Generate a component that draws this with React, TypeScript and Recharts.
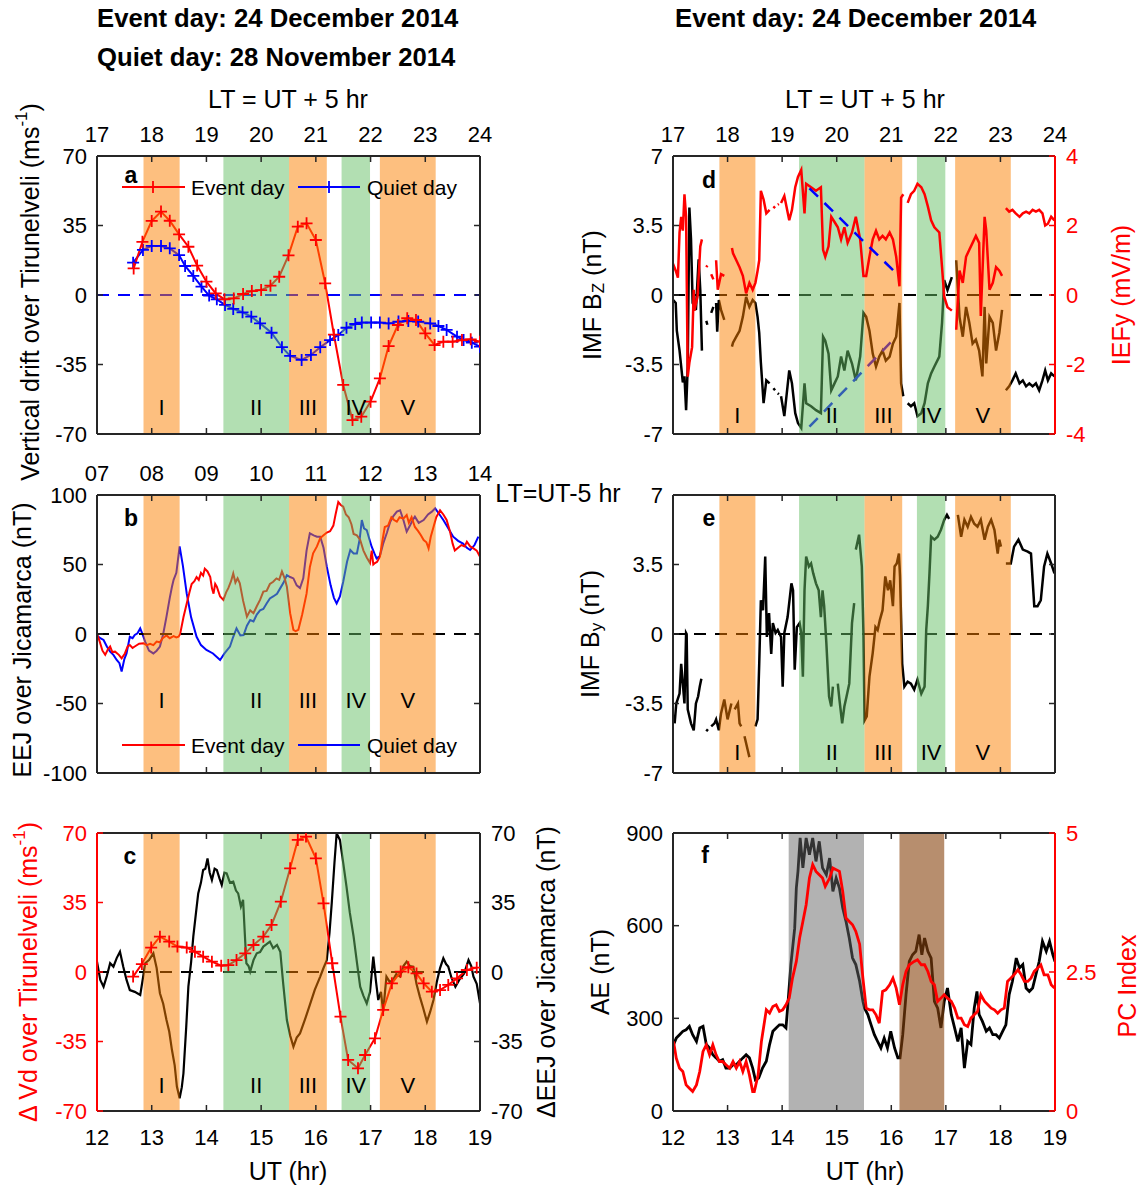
import React from "react";
import { ComposedChart, Line, XAxis, YAxis, ReferenceArea, ReferenceLine } from "recharts";

type Pt = [number, number | null];

const FONT = '"Liberation Sans", Arial, Helvetica, sans-serif';
const INK = "#262626";
const RED = "#ff0000";
const BLUE = "#0000ff";
const ORANGE = "#fb8000";
const GREEN = "#65bf65";

// shared UT axis
const utTicks = [12, 13, 14, 15, 16, 17, 18, 19];

// shaded intervals I..V (UT hr)
const bandFrom = [12.85, 14.31, 15.51, 16.47, 17.17];
const bandTo = [13.51, 15.51, 16.2, 16.99, 18.19];
const bandName = ["I", "II", "III", "IV", "V"];
const bandTone = ["o", "g", "o", "g", "o"];

// panel f shading
const aeBandFrom = [14.12, 16.15];
const aeBandTo = [15.5, 16.97];
const aeBandFill = ["#666666", "#87430d"];
const aeBandAlpha = [0.5, 0.6];

// a: vertical drift over Tirunelveli (m/s)
const driftEvent: Pt[] = [
  [12.67, 13.4], [12.83, 26.8], [13.0, 37.3], [13.17, 42], [13.33, 37.4], [13.5, 30.5], [13.67, 24.3],
  [13.83, 14.8], [14.0, 6.7], [14.17, 0.8], [14.33, -2.2], [14.5, -1.7], [14.67, 0.5], [14.83, 2],
  [15.0, 2.5], [15.17, 4.7], [15.33, 9.2], [15.5, 20], [15.67, 34.4], [15.83, 36.1], [16.0, 27.7],
  [16.17, 5.9], [16.33, -20], [16.5, -45.3], [16.67, -63], [16.83, -61.3], [17.0, -53.7], [17.17, -42],
  [17.33, -25.7], [17.5, -15.1], [17.67, -11.7], [17.83, -12.6], [18.0, -19.3], [18.17, -25.2],
  [18.33, -23.5], [18.5, -23.5], [18.67, -22.7], [18.83, -22.3], [19.0, -23.5],
];
const driftQuiet: Pt[] = [
  [12.66, 16.3], [12.84, 22.7], [13.0, 24.7], [13.17, 24.7], [13.33, 23.5], [13.5, 20.1], [13.61, 14.6],
  [13.76, 9.6], [13.91, 4.2], [14.05, -0.3], [14.19, -2.2], [14.34, -5], [14.49, -7], [14.66, -8.7],
  [14.82, -10.9], [14.98, -14.3], [15.19, -19], [15.38, -26.3], [15.53, -30.7], [15.74, -32.7],
  [15.91, -30.2], [16.08, -26.3], [16.26, -22.7], [16.41, -20.1], [16.56, -16.5], [16.72, -14.6],
  [16.84, -13.9], [17.01, -13.9], [17.17, -13.9], [17.33, -14.3], [17.51, -13.4], [17.69, -13.1],
  [17.87, -13.4], [18.09, -14.3], [18.24, -15.6], [18.39, -17.6], [18.58, -21], [18.7, -22.7],
  [18.85, -24], [19.0, -26],
];

// b: EEJ over Jicamarca (nT)
const eejEvent: Pt[] = [
  [12.0, 0], [12.05, -5.5], [12.1, -12], [12.15, -15], [12.2, -11], [12.24, -9], [12.28, -13], [12.33, -12.7],
  [12.4, -15], [12.45, -17.5], [12.51, -14], [12.56, -9], [12.6, -8], [12.65, -10], [12.69, -9],
  [12.77, -7], [12.85, -6.7], [12.91, -8], [12.97, -7], [13.03, -8], [13.09, -5.5], [13.15, -6],
  [13.2, -3], [13.27, -1], [13.33, -3], [13.4, -1.5], [13.45, -2.5], [13.49, -2], [13.52, 0], [13.58, 12],
  [13.64, 22], [13.69, 30], [13.73, 36], [13.78, 38], [13.82, 41], [13.86, 39], [13.9, 44], [13.94, 42],
  [13.97, 47], [14.02, 45], [14.07, 41], [14.1, 33], [14.13, 29], [14.16, 36], [14.19, 34], [14.25, 27],
  [14.31, 24.5], [14.36, 30], [14.4, 33], [14.45, 38], [14.49, 43.6], [14.53, 37], [14.57, 40],
  [14.61, 36.5], [14.67, 24], [14.74, 12.5], [14.8, 17], [14.86, 15], [14.92, 20], [14.98, 24.5],
  [15.04, 30.5], [15.1, 31], [15.16, 36], [15.22, 37.6], [15.28, 40], [15.33, 39], [15.38, 45],
  [15.43, 40], [15.47, 34], [15.53, 15], [15.59, 3], [15.63, 2], [15.68, 3], [15.75, 14], [15.83, 29],
  [15.89, 48], [15.95, 58], [16.02, 63], [16.08, 69], [16.14, 71], [16.2, 73], [16.26, 74], [16.32, 78],
  [16.36, 86], [16.41, 95], [16.45, 93], [16.5, 91.6], [16.55, 86], [16.6, 84], [16.65, 79], [16.69, 72],
  [16.75, 71], [16.81, 67.6], [16.87, 60], [16.93, 55], [16.99, 51], [17.02, 60], [17.05, 50],
  [17.08, 51], [17.12, 52], [17.17, 55.6], [17.22, 68], [17.26, 77], [17.32, 78], [17.38, 84],
  [17.43, 82], [17.48, 80.8], [17.53, 84], [17.6, 83], [17.66, 85.6], [17.7, 80], [17.75, 84],
  [17.81, 77], [17.87, 74], [17.92, 71], [17.97, 67.6], [18.02, 66], [18.06, 61.6], [18.1, 70],
  [18.15, 77], [18.2, 84], [18.27, 89], [18.33, 86], [18.39, 82], [18.45, 74], [18.5, 65], [18.54, 60],
  [18.6, 62], [18.66, 64], [18.72, 63], [18.76, 66.4], [18.82, 63], [18.88, 61.6], [18.94, 60],
  [19.0, 55.6],
];
const eejQuiet: Pt[] = [
  [12.0, -1], [12.06, -3], [12.12, -4.3], [12.18, -9], [12.24, -12.7], [12.3, -15], [12.36, -18.7],
  [12.41, -21], [12.45, -27], [12.5, -18], [12.54, -14], [12.6, -2], [12.65, -3], [12.69, -0.7],
  [12.74, 0.5], [12.79, 4], [12.84, -1], [12.88, -5.5], [12.95, -12], [13.03, -14], [13.09, -12],
  [13.15, -9], [13.21, 0], [13.27, 12.5], [13.33, 26], [13.37, 34], [13.4, 39], [13.45, 44],
  [13.51, 63], [13.57, 49], [13.64, 29], [13.72, 12], [13.82, -2], [13.9, -8], [14.0, -11.5],
  [14.12, -14], [14.25, -18.7], [14.33, -14], [14.43, -9], [14.49, -2], [14.55, 4], [14.62, -1],
  [14.68, -0.7], [14.74, 6], [14.8, 10], [14.86, 9], [14.92, 14], [14.98, 17], [15.04, 18], [15.1, 22],
  [15.16, 25.6], [15.22, 27], [15.29, 29], [15.35, 33], [15.41, 37], [15.47, 42.4], [15.53, 41],
  [15.59, 40], [15.65, 35], [15.71, 33], [15.77, 40], [15.83, 60], [15.89, 72.4], [15.96, 71],
  [16.02, 70], [16.08, 70], [16.14, 62], [16.2, 48.4], [16.27, 35], [16.33, 26], [16.38, 22],
  [16.44, 27], [16.5, 37.6], [16.57, 52], [16.63, 60.4], [16.69, 58], [16.75, 58], [16.8, 68],
  [16.84, 82], [16.88, 76], [16.93, 74.8], [16.98, 68], [17.02, 62.8], [17.07, 58], [17.11, 54.4],
  [17.17, 56], [17.23, 65], [17.3, 73], [17.36, 80.8], [17.42, 85], [17.48, 88], [17.54, 89],
  [17.6, 82], [17.66, 73.6], [17.72, 78], [17.77, 82], [17.81, 84.4], [17.88, 80], [17.97, 82],
  [18.05, 86], [18.12, 88], [18.18, 90.4], [18.26, 86], [18.33, 82], [18.42, 76], [18.51, 70],
  [18.6, 67], [18.69, 65], [18.76, 62], [18.82, 60.4], [18.9, 64], [18.97, 70],
];

// c: differences event - quiet
const dVd: Pt[] = [
  [12.66, -2.3], [12.82, 4], [12.99, 12.3], [13.15, 17.8], [13.32, 15.3], [13.47, 12.8], [13.64, 12.3],
  [13.79, 10.2], [13.94, 7.7], [14.1, 5.2], [14.27, 3.2], [14.4, 3.5], [14.55, 6], [14.71, 9.4],
  [14.86, 13.6], [15.04, 17.8], [15.19, 23.7], [15.36, 35.4], [15.53, 52.2], [15.67, 66.5],
  [15.82, 68.2], [16.0, 57.2], [16.14, 34.6], [16.3, 4.4], [16.45, -22.5], [16.59, -44.3],
  [16.77, -48.5], [16.9, -41.8], [17.08, -33.4], [17.23, -19.1], [17.39, -5.7], [17.55, 0.2],
  [17.69, 2.4], [17.84, -0.7], [17.97, -5.7], [18.12, -9.9], [18.27, -9.1], [18.42, -6.5],
  [18.58, -3.2], [18.76, 1], [18.94, 2.2],
];
const dEEJ: Pt[] = [
  [12.0, 5.2], [12.06, -4], [12.12, -7.4], [12.18, -2], [12.24, 4.4], [12.3, 2.7], [12.36, 7], [12.42, 10.2],
  [12.48, 2.7], [12.54, -4], [12.6, -9.1], [12.69, -10], [12.79, -11.6], [12.84, -3], [12.88, 4.4],
  [12.95, 6], [13.03, 9.4], [13.09, 2], [13.15, -10.7], [13.21, -16], [13.27, -24.2], [13.32, -30],
  [13.37, -39.3], [13.42, -47], [13.46, -57.7], [13.51, -63.6], [13.55, -58], [13.58, -51], [13.63, -28],
  [13.67, -7.4], [13.72, 5], [13.76, 17.8], [13.81, 30], [13.85, 39.6], [13.9, 45], [13.94, 51.4],
  [13.98, 52], [14.02, 57.2], [14.06, 50], [14.1, 46.3], [14.15, 52], [14.19, 51.4], [14.24, 47],
  [14.28, 43.8], [14.33, 50], [14.37, 49.7], [14.43, 45], [14.49, 45.5], [14.54, 41], [14.58, 39.6],
  [14.63, 33], [14.67, 36.3], [14.7, 20], [14.73, 4.4], [14.77, 3], [14.8, 0.2], [14.86, 6], [14.92, 9.4],
  [14.98, 10], [15.04, 12.8], [15.1, 14], [15.16, 15.3], [15.22, 12], [15.29, 13.6], [15.35, 10.2],
  [15.4, -5], [15.47, -24.2], [15.53, -32], [15.59, -37.6], [15.65, -33], [15.71, -30.9], [15.8, -24],
  [15.89, -16.6], [15.98, -9], [16.08, -2.3], [16.14, 2], [16.2, 6], [16.25, 20], [16.29, 34.6],
  [16.34, 55], [16.38, 69.8], [16.44, 66.5], [16.5, 55], [16.56, 43], [16.62, 30], [16.69, 17.8],
  [16.75, 5], [16.81, -7.4], [16.87, -12], [16.93, -15.8], [16.99, -10], [17.05, 7.7], [17.1, -5],
  [17.14, -14.1], [17.19, -10], [17.23, -20], [17.29, -2.3], [17.35, -5], [17.41, -4], [17.47, -1],
  [17.54, -2.3], [17.6, 3], [17.66, 5.2], [17.72, 3], [17.78, 2.7], [17.84, -6], [17.9, -12.4],
  [17.96, -18], [18.03, -25], [18.09, -20], [18.15, -14.1], [18.21, -5], [18.27, 2], [18.33, 6.9],
  [18.38, 4], [18.42, 2.7], [18.48, -3], [18.55, -7.4], [18.62, -4], [18.71, -0.7], [18.79, 6],
  [18.84, 3], [18.88, -2.3], [18.94, -6], [19.0, -15.8],
];

// d: IMF Bz (nT) and IEFy (mV/m); null = data gap
const imfBz: Pt[] = [
  [12.0, -0.25], [12.05, -0.4], [12.07, -1.8], [12.12, -2.8], [12.15, -3.6], [12.18, -4.4], [12.21, -4.1],
  [12.24, -5.8], [12.27, -3.6], [12.3, 4.4], [12.33, 2.8], [12.36, -0.4], [12.42, -0.75], [12.47, 1.8],
  [12.5, 0.25], [12.53, -2.8], [12.57, null], [12.61, -1.3], [12.63, -1.5], [12.66, null], [12.7, -0.9],
  [12.74, -0.6], [12.77, null], [12.79, -0.4], [12.81, -1.85], [12.84, -0.25], [12.88, -0.75],
  [12.94, -1.25], [13.02, null], [13.08, -2.6], [13.1, -2.4], [13.16, -2.1], [13.22, -1.8], [13.28, -1.1],
  [13.34, -0.1], [13.4, -0.6], [13.46, -0.25], [13.51, -0.4], [13.55, -1.1], [13.58, -1.9], [13.61, -3.4],
  [13.66, -5.45], [13.71, -4.3], [13.77, -4.45], [13.8, null], [13.84, -4.7], [13.87, -4.8], [13.89, null],
  [13.92, -4.95], [13.94, -5.0], [13.96, null], [13.98, -5.1], [14.04, -6.1], [14.13, -3.8], [14.18, -4.45],
  [14.24, -5.95], [14.29, -6.45], [14.35, -6.7], [14.41, -4.45], [14.44, -5.45], [14.53, -5.6],
  [14.62, -5.8], [14.71, -5.95], [14.75, -2.1], [14.79, -2.3], [14.85, -2.95], [14.9, -4.8], [14.96, -4.45],
  [15.02, -4.1], [15.08, -3.1], [15.14, -3.8], [15.2, -2.8], [15.28, -3.45], [15.35, -4.3], [15.43, -3.1],
  [15.49, -0.9], [15.54, -1.1], [15.6, -1.8], [15.66, -2.95], [15.72, -3.6], [15.78, -3.1], [15.84, -2.8],
  [15.9, -3.3], [15.97, -3.1], [16.03, -2.45], [16.09, -2.1], [16.15, -0.4], [16.18, -4.45], [16.22, -5.1],
  [16.26, null], [16.3, -5.45], [16.36, -5.6], [16.42, -5.45], [16.48, -6.1], [16.55, -5.95],
  [16.61, -5.45], [16.67, -4.45], [16.73, -3.95], [16.79, -3.6], [16.88, -3.1], [16.93, -1.4],
  [16.97, 0.75], [17.03, 0.25], [17.11, 0.9], [17.15, null], [17.19, 1.75], [17.25, -1.1], [17.31, -2.1],
  [17.37, -0.6], [17.43, -1.4], [17.49, -2.45], [17.55, -2.25], [17.61, -2.8], [17.67, -4.1],
  [17.71, -0.6], [17.74, -3.45], [17.8, -1.1], [17.86, -1.4], [17.92, -2.8], [17.98, -1.9],
  [18.03, -0.75], [18.07, null], [18.1, -4.8], [18.16, -4.6], [18.22, -4.3], [18.28, -3.95],
  [18.35, -4.45], [18.41, -4.3], [18.47, -4.6], [18.53, -4.45], [18.59, -4.6], [18.65, -4.45],
  [18.71, -4.8], [18.77, -4.3], [18.82, -3.8], [18.87, -4.3], [18.93, -3.95], [18.99, -4.1],
];
const iefY: Pt[] = [
  [12.0, 0.9], [12.05, 0.7], [12.09, 0.5], [12.12, 1.8], [12.15, 2.25], [12.18, 1.85], [12.21, 2.9],
  [12.24, 2.25], [12.27, -2.35], [12.3, -1.95], [12.35, -1.5], [12.38, 0.15], [12.39, -0.45],
  [12.45, -0.05], [12.5, 1.4], [12.53, 1.6], [12.57, null], [12.61, 0.8], [12.63, 0.85], [12.66, null],
  [12.7, 0.6], [12.74, 0.45], [12.77, null], [12.79, 1.0], [12.82, 0.15], [12.88, 0.6], [12.94, 0.55],
  [13.02, null], [13.08, 1.35], [13.1, 1.2], [13.16, 1.0], [13.22, 0.8], [13.28, 0.55], [13.34, 0.05],
  [13.4, 0.35], [13.46, 0.15], [13.51, 0.35], [13.55, 0.7], [13.58, 1.0], [13.61, 3.0], [13.66, 2.75],
  [13.71, 2.35], [13.77, 2.45], [13.8, null], [13.84, 2.5], [13.87, 2.55], [13.89, null], [13.92, 2.6],
  [13.94, 2.62], [13.96, null], [13.98, 2.65], [14.04, 2.85], [14.13, 2.15], [14.18, 2.45], [14.24, 3.1],
  [14.29, 3.4], [14.35, 3.6], [14.41, 2.35], [14.44, 3.2], [14.53, 3.1], [14.62, 3.0], [14.71, 3.1],
  [14.75, 1.3], [14.79, 1.1], [14.85, 1.4], [14.9, 2.25], [14.96, 2.1], [15.02, 1.95], [15.08, 1.6],
  [15.14, 1.95], [15.2, 1.5], [15.28, 1.8], [15.35, 2.25], [15.43, 1.6], [15.49, 0.55], [15.54, 0.55],
  [15.6, 1.1], [15.66, 1.6], [15.72, 1.85], [15.78, 1.6], [15.84, 1.7], [15.9, 1.6], [15.97, 1.8],
  [16.03, 1.6], [16.09, 1.1], [16.15, 0.25], [16.18, 2.8], [16.22, 2.9], [16.26, null], [16.3, 2.65],
  [16.36, 2.9], [16.42, 3.0], [16.48, 3.2], [16.55, 3.1], [16.61, 2.9], [16.67, 2.55], [16.73, 2.15],
  [16.79, 1.95], [16.88, 1.8], [16.93, 0.8], [16.97, -0.05], [17.03, -0.35], [17.11, -0.45],
  [17.15, null], [17.19, -1.0], [17.25, 0.7], [17.31, 0.35], [17.37, 1.1], [17.43, 1.3], [17.49, 1.5],
  [17.55, 1.7], [17.61, 1.5], [17.64, -0.6], [17.71, 2.25], [17.74, 1.85], [17.8, 0.15], [17.86, 0.35],
  [17.92, 0.8], [17.98, 0.7], [18.03, 0.55], [18.07, null], [18.1, 2.5], [18.16, 2.4], [18.22, 2.45],
  [18.28, 2.35], [18.35, 2.25], [18.41, 2.35], [18.47, 2.4], [18.53, 2.35], [18.59, 2.45], [18.65, 2.4],
  [18.71, 2.45], [18.77, 2.35], [18.82, 2.0], [18.87, 2.05], [18.93, 2.25], [18.99, 2.15],
];
// dashed trend segments in interval II: [t0, v0, t1, v1]
const iefTrend = [14.5, 3.07, 16.12, 0.58];
const bzTrend = [14.5, -6.63, 16.0, -2.35];

// e: IMF By (nT)
const imfBy: Pt[] = [
  [12.03, -4.5], [12.06, -3.5], [12.12, -3.0], [12.15, -1.5], [12.18, -2.5], [12.21, -3.5], [12.24, 0.05],
  [12.25, 0], [12.27, -3.8], [12.33, -4.5], [12.38, -4.85], [12.42, -3.5], [12.46, -3.15], [12.49, -2.65],
  [12.52, -2.25], [12.57, null], [12.61, -4.9], [12.64, -4.8], [12.67, null], [12.7, -4.65],
  [12.76, -4.5], [12.79, -4.3], [12.84, -4.85], [12.88, -4.0], [12.94, -3.3], [13.0, -4.3],
  [13.07, -3.5], [13.1, null], [13.13, -3.8], [13.19, -3.5], [13.22, -4.5], [13.25, -4.65],
  [13.28, null], [13.31, -5.15], [13.37, -5.85], [13.4, -6.2], [13.45, null], [13.51, -4.65],
  [13.55, -4.3], [13.58, -1.5], [13.61, 1.7], [13.65, 1.2], [13.69, 3.9], [13.72, -0.15], [13.76, 1.05],
  [13.8, -1.0], [13.83, 0.55], [13.88, 0.05], [13.92, 0.2], [13.98, -0.15], [14.01, -2.65], [14.04, 0.05],
  [14.1, 0.85], [14.17, 2.55], [14.2, 2.2], [14.23, -1.8], [14.27, 0.35], [14.32, 0.55], [14.35, 0.05],
  [14.38, -2.15], [14.41, 2.2], [14.44, 3.9], [14.49, 3.4], [14.53, 3.55], [14.57, 3.05], [14.62, 2.55],
  [14.67, 2.2], [14.71, 0.85], [14.74, 2.2], [14.77, 1.4], [14.81, -0.45], [14.86, -3.15], [14.9, -3.65],
  [14.93, -2.65], [14.97, null], [15.02, -2.5], [15.05, -3.3], [15.1, -4.5], [15.14, -3.65],
  [15.18, -3.15], [15.23, -2.5], [15.28, 0.55], [15.32, 1.55], [15.33, null], [15.35, 4.25],
  [15.41, 5.0], [15.46, 3.4], [15.49, 0], [15.51, -4.35], [15.55, -4.15], [15.6, -2.15], [15.66, -0.95],
  [15.71, 0.35], [15.75, 0.2], [15.79, 0.7], [15.84, 1.2], [15.89, 2.9], [15.94, 2.2], [15.98, 2.7],
  [16.03, 1.4], [16.06, 3.4], [16.1, 3.55], [16.14, 4.05], [16.16, 2.9], [16.2, -1.5], [16.24, -2.65],
  [16.3, -2.4], [16.36, -2.5], [16.42, -2.8], [16.48, -2.3], [16.55, -3.0], [16.61, -2.65], [16.64, 0.2],
  [16.67, 1.4], [16.7, 3.05], [16.73, 4.9], [16.79, 4.75], [16.85, 4.9], [16.91, 5.25], [16.97, 5.75],
  [17.02, 6.0], [17.06, 5.8], [17.12, null], [17.22, 6.0], [17.28, 4.9], [17.34, 5.75], [17.4, 5.4],
  [17.46, 5.9], [17.52, 5.55], [17.58, 5.4], [17.64, 5.75], [17.71, 4.75], [17.77, 5.4], [17.83, 5.75],
  [17.89, 5.25], [17.95, 4.05], [17.98, 4.75], [18.01, 4.4], [18.05, null], [18.1, 3.55], [18.19, 3.55],
  [18.25, 4.4], [18.33, 4.75], [18.41, 4.25], [18.5, 4.15], [18.56, 4.05], [18.62, 1.4], [18.68, 1.4],
  [18.74, 1.7], [18.8, 3.4], [18.86, 4.05], [18.93, 3.55], [18.99, 3.05],
];

// f: AE (nT) and PC index
const aeIndex: Pt[] = [
  [12.01, 215], [12.06, 236], [12.12, 247], [12.18, 258], [12.24, 263], [12.3, 274], [12.36, 247],
  [12.43, 225], [12.49, 269], [12.55, 274], [12.61, 215], [12.67, 204], [12.73, 182], [12.79, 172],
  [12.85, 161], [12.91, 166], [12.97, 139], [13.04, 139], [13.1, 150], [13.16, 150], [13.22, 161],
  [13.28, 172], [13.34, 182], [13.4, 172], [13.46, 139], [13.51, 101], [13.57, 107], [13.64, 139],
  [13.71, 161], [13.77, 215], [13.83, 258], [13.89, 269], [13.95, 279], [14.01, 279], [14.07, 269],
  [14.1, 333], [14.16, 474], [14.23, 592], [14.26, 722], [14.29, 776], [14.33, 884], [14.38, 787],
  [14.44, 884], [14.5, 830], [14.56, 884], [14.62, 808], [14.68, 873], [14.74, 787], [14.81, 765],
  [14.87, 819], [14.93, 711], [14.99, 754], [15.05, 722], [15.11, 657], [15.17, 614], [15.23, 560],
  [15.29, 495], [15.35, 474], [15.42, 420], [15.48, 355], [15.51, 333], [15.57, 312], [15.63, 279],
  [15.69, 247], [15.75, 225], [15.81, 204], [15.87, 236], [15.93, 204], [15.99, 258], [16.06, 204],
  [16.12, 172], [16.16, 172], [16.21, 247], [16.27, 377], [16.33, 484], [16.39, 506], [16.45, 517],
  [16.51, 571], [16.56, 506], [16.61, 560], [16.67, 517], [16.73, 495], [16.79, 355], [16.85, 333],
  [16.91, 269], [16.97, 355], [17.03, 398], [17.1, 312], [17.16, 269], [17.22, 225], [17.28, 269],
  [17.34, 139], [17.4, 225], [17.46, 215], [17.52, 333], [17.57, 387], [17.61, 312], [17.67, 290],
  [17.74, 258], [17.8, 269], [17.86, 247], [17.92, 247], [17.98, 236], [18.04, 258], [18.1, 279],
  [18.16, 377], [18.22, 420], [18.29, 495], [18.35, 463], [18.41, 474], [18.47, 398], [18.53, 387],
  [18.59, 398], [18.65, 441], [18.71, 484], [18.77, 549], [18.84, 517], [18.9, 549], [18.96, 506],
  [19.0, 484],
];
const pcIndex: Pt[] = [
  [12.01, 1.25], [12.06, 0.95], [12.12, 0.77], [12.18, 0.71], [12.24, 0.47], [12.3, 0.41], [12.36, 0.35],
  [12.43, 0.47], [12.49, 0.71], [12.55, 1.07], [12.61, 1.19], [12.67, 1.01], [12.73, 1.19], [12.79, 1.01],
  [12.85, 0.89], [12.91, 0.89], [12.97, 0.83], [13.04, 0.77], [13.1, 0.89], [13.16, 0.77], [13.22, 0.89],
  [13.28, 0.71], [13.34, 0.89], [13.4, 0.65], [13.46, 0.35], [13.49, 0.35], [13.56, 0.65], [13.62, 1.25],
  [13.71, 1.82], [13.77, 1.76], [13.83, 1.88], [13.89, 1.91], [13.95, 1.79], [14.01, 1.82], [14.07, 1.91],
  [14.13, 2.03], [14.19, 2.39], [14.26, 2.69], [14.32, 3.11], [14.38, 3.41], [14.44, 3.71], [14.5, 4.19],
  [14.56, 4.43], [14.62, 4.31], [14.68, 4.25], [14.74, 4.19], [14.79, 4.04], [14.87, 4.19], [14.93, 4.37],
  [14.99, 4.34], [15.05, 4.31], [15.11, 3.95], [15.17, 3.47], [15.23, 3.41], [15.29, 3.35], [15.35, 3.23],
  [15.42, 3.0], [15.48, 2.39], [15.54, 1.85], [15.6, 1.82], [15.66, 1.82], [15.72, 1.73], [15.78, 1.58],
  [15.84, 2.15], [15.9, 2.18], [15.97, 2.27], [16.03, 2.39], [16.09, 2.21], [16.15, 1.91], [16.21, 2.27],
  [16.27, 2.51], [16.33, 2.63], [16.42, 2.69], [16.48, 2.72], [16.55, 2.63], [16.61, 2.63], [16.67, 2.51],
  [16.73, 2.33], [16.79, 2.27], [16.85, 1.97], [16.91, 2.03], [16.97, 2.09], [17.03, 2.03], [17.1, 1.97],
  [17.16, 1.85], [17.22, 1.67], [17.28, 1.67], [17.34, 1.55], [17.4, 1.52], [17.46, 1.67], [17.52, 1.73],
  [17.58, 1.79], [17.64, 2.09], [17.71, 1.97], [17.77, 1.91], [17.83, 1.85], [17.89, 1.82], [17.95, 1.76],
  [18.01, 1.82], [18.07, 1.85], [18.13, 2.33], [18.19, 2.39], [18.25, 2.45], [18.32, 2.54], [18.38, 2.45],
  [18.44, 2.33], [18.5, 2.33], [18.56, 2.39], [18.62, 2.51], [18.68, 2.57], [18.74, 2.63], [18.8, 2.45],
  [18.87, 2.45], [18.93, 2.27], [18.99, 2.21],
];

const rows = (pts: Pt[]) => pts.map(([t, v]) => ({ t, v }));

const PADX = 60;
const PADY = 40;

type Side = { ticks: number[]; domain: [number, number]; show: boolean; color?: string; text?: string; fmt?: (v: number) => string };

const blank = () => "";

function frame(left: Side, right: Side, top: Side, bottom: Side) {
  const tick = (s: Side) => ({ fill: s.text ?? "#000", fontSize: 22, fontFamily: FONT });
  const line = (s: Side) => ({ stroke: s.color ?? INK, strokeWidth: 2 });
  const tl = (s: Side) => ({ stroke: s.color ?? INK, strokeWidth: 1.5 });
  return [
    <XAxis key="xb" xAxisId="b" type="number" dataKey="t" orientation="bottom" height={PADY}
      domain={bottom.domain} ticks={bottom.ticks} interval={0} allowDataOverflow tickSize={-6} tickMargin={24}
      axisLine={line(bottom)} tickLine={tl(bottom)} tick={tick(bottom)}
      tickFormatter={bottom.show ? bottom.fmt ?? ((v: number) => String(v)) : blank} />,
    <XAxis key="xt" xAxisId="t" type="number" dataKey="t" orientation="top" height={PADY}
      domain={top.domain} ticks={top.ticks} interval={0} allowDataOverflow tickSize={-6} tickMargin={20}
      axisLine={line(top)} tickLine={tl(top)} tick={tick(top)}
      tickFormatter={top.show ? top.fmt ?? ((v: number) => String(v)) : blank} />,
    <YAxis key="yl" yAxisId="l" type="number" orientation="left" width={PADX}
      domain={left.domain} ticks={left.ticks} interval={0} allowDataOverflow tickSize={-6} tickMargin={16}
      axisLine={line(left)} tickLine={tl(left)} tick={tick(left)}
      tickFormatter={left.show ? left.fmt ?? ((v: number) => String(v)) : blank} />,
    <YAxis key="yr" yAxisId="r" type="number" orientation="right" width={PADX}
      domain={right.domain} ticks={right.ticks} interval={0} allowDataOverflow tickSize={-6} tickMargin={17}
      axisLine={line(right)} tickLine={tl(right)} tick={tick(right)}
      tickFormatter={right.show ? right.fmt ?? ((v: number) => String(v)) : blank} />,
  ];
}

// invisible series so the top/right frame axes get their ticks
function anchor(pts: Pt[]) {
  return (
    <Line key="anchor" xAxisId="t" yAxisId="r" data={rows(pts)} dataKey="v" stroke="none" strokeWidth={0}
      dot={false} activeDot={false} isAnimationActive={false} />
  );
}

function bands(labelOffset: number) {
  return bandFrom.map((f, i) => (
    <ReferenceArea key={`band${i}`} xAxisId="b" yAxisId="l" x1={f} x2={bandTo[i]}
      fill={bandTone[i] === "o" ? ORANGE : GREEN} fillOpacity={0.5} stroke="none" zIndex={450}
      label={{ value: bandName[i], position: "insideBottom", offset: labelOffset, fill: "#000", fontSize: 22, fontFamily: FONT }} />
  ));
}

function zero(color: string) {
  return <ReferenceLine key="zero" xAxisId="b" yAxisId="l" y={0} stroke={color} strokeWidth={2} strokeDasharray="12 9" zIndex={405} />;
}

const plus = (color: string) => (p: any) => {
  const { cx, cy, index, value } = p;
  if (cx == null || cy == null || value == null) return <g key={`n${index}`} />;
  return (
    <path key={`p${index}`} d={`M${cx - 6},${cy}H${cx + 6}M${cx},${cy - 6}V${cy + 6}`}
      stroke={color} strokeWidth={1.8} fill="none" />
  );
};

function series(pts: Pt[], color: string, width: number, axis: string, marker?: boolean, z = 400) {
  return (
    <Line key={`s${color}${pts.length}${axis}`} xAxisId="b" yAxisId={axis} data={rows(pts)} dataKey="v"
      type="linear" stroke={color} strokeWidth={width} dot={marker ? plus(color) : false}
      activeDot={false} connectNulls={false} isAnimationActive={false} zIndex={z} />
  );
}

function Panel({ x, y, w, h, children }: { x: number; y: number; w: number; h: number; children: React.ReactNode }) {
  return (
    <div style={{ position: "absolute", left: x - PADX, top: y - PADY }}>
      <ComposedChart width={w + 2 * PADX} height={h + 2 * PADY} margin={{ top: 0, right: 0, bottom: 0, left: 0 }}>
        {children}
      </ComposedChart>
    </div>
  );
}

const UT = (show: boolean, fmt?: (v: number) => string): Side => ({ ticks: utTicks, domain: [12, 19], show, fmt });
const lt = (v: number) => String(v + 5);
const ltPeru = (v: number) => String(v - 5).padStart(2, "0");

const LX = 97, RX = 673, PW = 383, PH = 278;
const ROW = [156, 495, 833];

function RotText({ x, y, color = "#000", children }: { x: number; y: number; color?: string; children: React.ReactNode }) {
  return (
    <text transform={`translate(${x},${y}) rotate(-90)`} textAnchor="middle" dominantBaseline="central"
      fontSize={25} fill={color} fontFamily={FONT}>
      {children}
    </text>
  );
}

export default function App() {
  const ten = { ticks: [-70, -35, 0, 35, 70], domain: [-70, 70] as [number, number] };
  const hund = { ticks: [-100, -50, 0, 50, 100], domain: [-100, 100] as [number, number] };
  const seven = { ticks: [-7, -3.5, 0, 3.5, 7], domain: [-7, 7] as [number, number] };
  return (
    <div style={{ position: "absolute", left: 0, top: 0, width: 1146, height: 1191, background: "#fff", fontFamily: FONT }}>
      {/* a */}
      <Panel x={LX} y={ROW[0]} w={PW} h={PH}>
        {frame({ ...ten, show: true }, { ...ten, show: false }, UT(true, lt), UT(false))}
        {anchor(driftEvent)}
        {zero(BLUE)}
        {series(driftQuiet, BLUE, 2, "l", true)}
        {series(driftEvent, RED, 2, "l", true)}
        {bands(19)}
      </Panel>
      {/* b */}
      <Panel x={LX} y={ROW[1]} w={PW} h={PH}>
        {frame({ ...hund, show: true }, { ...hund, show: false }, UT(true, ltPeru), UT(false))}
        {anchor(eejEvent)}
        {zero("#000")}
        {series(eejQuiet, BLUE, 2, "l")}
        {series(eejEvent, RED, 2, "l")}
        {bands(65)}
      </Panel>
      {/* c */}
      <Panel x={LX} y={ROW[2]} w={PW} h={PH}>
        {frame({ ...ten, show: true, color: RED, text: RED }, { ...ten, show: true }, UT(false), UT(true))}
        {anchor(dEEJ)}
        {zero("#000")}
        {series(dEEJ, "#000", 2.2, "r")}
        {series(dVd, RED, 2, "l", true)}
        {bands(18)}
      </Panel>
      {/* d */}
      <Panel x={RX} y={ROW[0]} w={382} h={PH}>
        {frame({ ...seven, show: true }, { ticks: [-4, -2, 0, 2, 4], domain: [-4, 4], show: true, color: RED, text: RED }, UT(true, lt), UT(false))}
        {anchor(iefY)}
        {zero("#000")}
        <ReferenceLine xAxisId="b" yAxisId="l" segment={[{ x: bzTrend[0], y: bzTrend[1] }, { x: bzTrend[2], y: bzTrend[3] }]}
          stroke={BLUE} strokeWidth={2.5} strokeDasharray="12 9" zIndex={410} />
        {series(imfBz, "#000", 2.5, "l")}
        {bands(11)}
        {series(iefY, RED, 2.5, "r", false, 470)}
        <ReferenceLine xAxisId="b" yAxisId="r" segment={[{ x: iefTrend[0], y: iefTrend[1] }, { x: iefTrend[2], y: iefTrend[3] }]}
          stroke={BLUE} strokeWidth={2.5} strokeDasharray="12 9" zIndex={475} />
      </Panel>
      {/* e */}
      <Panel x={RX} y={ROW[1]} w={382} h={PH}>
        {frame({ ...seven, show: true }, { ...seven, show: false }, UT(false), UT(false))}
        {anchor(imfBy)}
        {zero("#000")}
        {series(imfBy, "#000", 2.5, "l")}
        {bands(13)}
      </Panel>
      {/* f */}
      <Panel x={RX} y={ROW[2]} w={382} h={PH}>
        {frame({ ticks: [0, 300, 600, 900], domain: [0, 900], show: true },
          { ticks: [0, 2.5, 5], domain: [0, 5], show: true, color: RED, text: RED }, UT(false), UT(true))}
        {anchor(pcIndex)}
        {series(aeIndex, "#000", 2.8, "l")}
        {aeBandFrom.map((f, i) => (
          <ReferenceArea key={`ae${i}`} xAxisId="b" yAxisId="l" x1={f} x2={aeBandTo[i]} fill={aeBandFill[i]}
            fillOpacity={aeBandAlpha[i]} stroke="none" zIndex={450} />
        ))}
        {series(pcIndex, RED, 2.8, "r", false, 470)}
      </Panel>

      <svg width={1146} height={1191} style={{ position: "absolute", left: 0, top: 0, pointerEvents: "none" }} fontFamily={FONT}>
        <text x={97} y={27} fontSize={25.7} fontWeight="bold">Event day: 24 December 2014</text>
        <text x={97} y={66} fontSize={25.7} fontWeight="bold">Quiet day: 28 November 2014</text>
        <text x={675} y={27} fontSize={25.7} fontWeight="bold">Event day: 24 December 2014</text>
        <text x={288} y={108} fontSize={25} textAnchor="middle">LT = UT + 5 hr</text>
        <text x={865} y={108} fontSize={25} textAnchor="middle">LT = UT + 5 hr</text>
        <text x={558} y={502} fontSize={25} textAnchor="middle">LT=UT-5 hr</text>
        <text x={288} y={1180} fontSize={25} textAnchor="middle">UT (hr)</text>
        <text x={865} y={1180} fontSize={25} textAnchor="middle">UT (hr)</text>

        <text x={131} y={183} fontSize={23} fontWeight="bold" textAnchor="middle">a</text>
        <text x={131} y={526} fontSize={23} fontWeight="bold" textAnchor="middle">b</text>
        <text x={130} y={864} fontSize={23} fontWeight="bold" textAnchor="middle">c</text>
        <text x={709} y={188} fontSize={23} fontWeight="bold" textAnchor="middle">d</text>
        <text x={709} y={526} fontSize={23} fontWeight="bold" textAnchor="middle">e</text>
        <text x={705} y={863} fontSize={23} fontWeight="bold" textAnchor="middle">f</text>

        {/* legend a */}
        <line x1={122} y1={187} x2={185} y2={187} stroke={RED} strokeWidth={2} />
        <path d="M147,187H159M153,181V193" stroke={RED} strokeWidth={1.8} />
        <text x={191} y={195} fontSize={21}>Event day</text>
        <line x1={298} y1={187} x2={360} y2={187} stroke={BLUE} strokeWidth={2} />
        <path d="M323,187H335M329,181V193" stroke={BLUE} strokeWidth={1.8} />
        <text x={367} y={195} fontSize={21}>Quiet day</text>
        {/* legend b */}
        <line x1={122} y1={745} x2={185} y2={745} stroke={RED} strokeWidth={2} />
        <text x={191} y={753} fontSize={21}>Event day</text>
        <line x1={298} y1={745} x2={360} y2={745} stroke={BLUE} strokeWidth={2} />
        <text x={367} y={753} fontSize={21}>Quiet day</text>

        <RotText x={30} y={292}>Vertical drift over Tirunelveli (ms<tspan fontSize={17} dy={-9}>-1</tspan><tspan dy={9}>)</tspan></RotText>
        <RotText x={22} y={640}>EEJ over Jicamarca (nT)</RotText>
        <RotText x={28} y={972} color={RED}>Δ Vd over Tirunelveli (ms<tspan fontSize={17} dy={-9}>-1</tspan><tspan dy={9}>)</tspan></RotText>
        <RotText x={546} y={972}>ΔEEJ over Jicamarca (nT)</RotText>
        <RotText x={592} y={295}>IMF B<tspan fontSize={17} dy={6}>Z</tspan><tspan dy={-6}> (nT)</tspan></RotText>
        <RotText x={1121} y={295} color={RED}>IEFy (mV/m)</RotText>
        <RotText x={590} y={634}>IMF B<tspan fontSize={17} dy={6}>y</tspan><tspan dy={-6}> (nT)</tspan></RotText>
        <RotText x={600} y={972}>AE (nT)</RotText>
        <RotText x={1127} y={986} color={RED}>PC Index</RotText>
      </svg>
    </div>
  );
}
